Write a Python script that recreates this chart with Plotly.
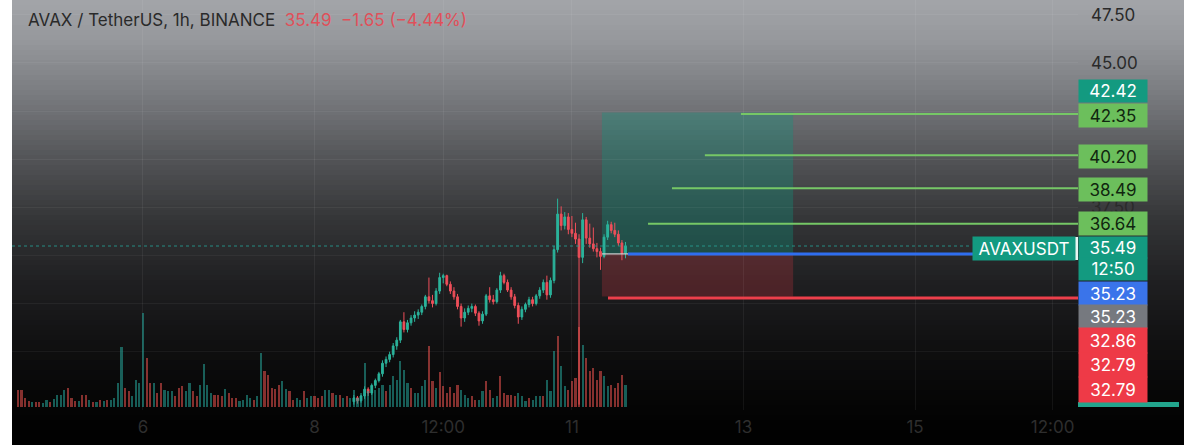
import plotly.graph_objects as go

# ---------------- data ----------------
candle_hours = list(range(59, 136))  # hours after day 6 00:00
open_ = [27.40, 27.60, 27.45, 27.70, 28.05, 27.85, 28.25, 28.50, 28.85, 29.40,
         29.60, 29.85, 30.30, 30.60, 31.55, 31.15, 31.50, 31.75, 31.90, 32.05,
         32.35, 32.85, 32.65, 32.50, 33.15, 33.85, 33.95, 33.50, 33.15, 32.85,
         32.35, 31.75, 32.05, 32.25, 32.35, 32.00, 31.60, 31.95, 32.90, 32.70,
         32.60, 33.20, 33.95, 33.60, 33.20, 32.85, 32.40, 31.80, 32.20, 32.45,
         32.70, 32.50, 32.90, 33.20, 33.60, 32.95, 33.70, 35.30, 37.15, 36.55,
         37.00, 36.35, 36.15, 35.85, 34.90, 36.85, 35.90, 35.60, 35.35, 35.20,
         34.95, 35.95, 36.60, 36.30, 36.10, 35.65, 35.10]
high = [27.75, 27.70, 27.85, 28.20, 28.15, 28.35, 28.60, 28.95, 29.55, 29.75,
        30.00, 30.45, 30.75, 31.65, 32.05, 31.65, 31.90, 32.10, 32.20, 32.45,
        32.95, 33.85, 32.95, 33.30, 34.10, 34.05, 34.00, 33.65, 33.35, 33.00,
        32.50, 32.25, 32.40, 32.50, 32.45, 32.10, 32.10, 33.00, 33.35, 32.95,
        33.30, 34.15, 34.05, 33.75, 33.35, 33.00, 32.55, 32.35, 32.55, 32.85,
        32.85, 33.00, 33.35, 33.75, 33.95, 33.85, 35.50, 37.95, 37.55, 37.25,
        37.20, 37.05, 36.70, 36.10, 37.20, 37.00, 36.65, 36.45, 35.65, 35.40,
        36.10, 36.80, 36.75, 36.70, 36.30, 35.80, 35.70]
low = [27.25, 27.30, 27.35, 27.55, 27.70, 27.75, 28.10, 28.40, 28.70, 29.20,
       29.45, 29.70, 30.10, 30.45, 31.00, 31.00, 31.35, 31.55, 31.70, 31.90,
       32.20, 32.50, 32.30, 32.40, 33.00, 33.55, 33.40, 33.00, 32.70, 32.20,
       31.30, 31.55, 31.90, 32.05, 31.85, 31.35, 31.45, 31.85, 32.55, 32.45,
       32.50, 33.05, 33.50, 33.10, 32.70, 32.25, 31.45, 31.65, 32.05, 32.30,
       32.35, 32.40, 32.75, 33.05, 32.70, 32.80, 33.55, 35.15, 36.30, 36.35,
       36.10, 35.95, 35.60, 27.25, 34.60, 35.60, 35.40, 35.20, 34.90, 34.25,
       34.85, 35.80, 36.15, 35.95, 35.50, 34.75, 34.85]
close = [27.60, 27.45, 27.70, 28.05, 27.85, 28.25, 28.50, 28.85, 29.40, 29.60,
         29.85, 30.30, 30.60, 31.55, 31.15, 31.50, 31.75, 31.90, 32.05, 32.35,
         32.85, 32.65, 32.50, 33.15, 33.85, 33.95, 33.50, 33.15, 32.85, 32.35,
         31.75, 32.05, 32.25, 32.35, 32.00, 31.60, 31.95, 32.90, 32.70, 32.60,
         33.20, 33.95, 33.60, 33.20, 32.85, 32.40, 31.80, 32.20, 32.45, 32.70,
         32.50, 32.90, 33.20, 33.60, 32.95, 33.70, 35.30, 37.15, 36.55, 37.00,
         36.35, 36.15, 35.85, 34.90, 36.85, 35.90, 35.60, 35.35, 35.20, 34.95,
         35.95, 36.60, 36.30, 36.10, 35.65, 35.10, 35.49]

volume_hours = list(range(-35, 136))
volume = [17, 17, 9, 6, 5, 5, 5, 4, 7, 5, 8, 12, 12, 17, 19, 9, 6, 6, 12, 12,
          7, 5, 5, 7, 6, 7, 7, 9, 24, 60, 19, 16, 11, 27, 24,
          94, 49, 24, 24, 14, 24, 17, 16, 16, 11, 19, 21, 16, 24,
          16, 11, 22, 43, 22, 14, 12, 12, 11, 18, 14, 9, 9, 6, 7, 12, 9, 7, 11, 54,
          36, 32, 19, 18, 22, 26, 18, 16, 7, 9, 7, 16, 9, 11, 11, 9, 11, 17, 17, 14,
          12, 12, 9, 11, 9, 17, 9,
          12, 44, 16, 14, 17, 19, 22, 16, 22, 31, 27, 46, 37, 24, 19, 14, 14, 21, 27, 61,
          26, 19, 35, 21, 14, 20, 14, 22, 17, 12, 9, 11, 7, 7,
          16, 26, 17, 9, 11, 31, 14, 12, 12, 11, 14, 11, 6, 9, 7, 11, 11, 11, 27, 16,
          56, 71, 41, 21, 17, 26, 29, 80, 62, 49, 36, 39, 27, 36, 31, 21, 22, 19, 24, 32, 22]
volume_dir = ("ddddudduud" "uuuudddudd" "udududuuuu" "dduuu"
              "uddudduuuddduu"
              "dduuuuddduddduuuuduuddddduudduuduuddduudud"
              "uduuuuuuuuuuduuuuuuduuuuddudddddduuudd"
              "uudduuddddduuuduuuduuuduudddduddddduuddddu")

tick_hours = [0, 48, 84, 120, 168, 216, 254.5]
tick_text = ["6", "8", "12:00", "11", "13", "15", "12:00"]
price_ticks = [30.0, 32.5, 35.0, 37.5, 40.0, 42.5, 45.0, 47.5]
price_tick_text = ["", "", "", "37.50", "", "", "45.00", "47.50"]  # others sit under the price tags

last_price = 35.49
entry_price = 35.08
target_price = 42.42
stop_price = 32.86
position_hours = [128.4, 181.9]
tp_levels = [42.35, 40.20, 38.49, 36.64]
tp_start_hours = [167.3, 157.2, 148.0, 141.3]
sl_level = 32.79
sl_start_hour = 130.1
entry_line_hours = [135.7, 232.8]

axis_labels = ["42.42", "42.35", "40.20", "38.49", "36.64", "35.49", "12:50",
               "35.23", "35.23", "32.86", "32.79", "32.79"]

# ---------------- layout geometry ----------------
W, H = 1200, 445
ML, MR, MT, MB = 12, 122, 0, 35
PW, PH = W - ML - MR, H - MT - MB
XR = [-36.65, 261.6]
YR = [26.97, 48.27]


def py2paper(py):
    return 1 - py / PH


def px2paper(px):
    return (px - ML) / PW


UP = "#2bb39b"
DOWN = "#ef4f5a"

fig = go.Figure()

# volume
vcol = ["rgba(38,166,154,0.55)" if d == "u" else "rgba(239,83,80,0.55)" for d in volume_dir]
fig.add_trace(go.Bar(x=volume_hours, y=volume, marker=dict(color=vcol, line=dict(width=0)),
                     width=0.6, yaxis="y2", hoverinfo="skip", showlegend=False))

# candles
fig.add_trace(go.Candlestick(
    x=candle_hours, open=open_, high=high, low=low, close=close,
    increasing=dict(line=dict(color=UP, width=1), fillcolor=UP),
    decreasing=dict(line=dict(color=DOWN, width=1), fillcolor=DOWN),
    whiskerwidth=0, showlegend=False, hoverinfo="skip"))

shapes = []
# gradient background bands
stops = [(0, (163, 165, 169)), (40, (150, 152, 156)), (100, (118, 120, 124)),
         (160, (82, 83, 86)), (220, (52, 53, 55)), (280, (32, 32, 34)),
         (340, (17, 17, 18)), (400, (5, 5, 5)), (445, (0, 0, 0))]


def grad(py):
    for (a, ca), (b, cb) in zip(stops[:-1], stops[1:]):
        if a <= py <= b:
            t = (py - a) / (b - a)
            return tuple(round(ca[i] + (cb[i] - ca[i]) * t) for i in range(3))
    return stops[-1][1]


step = 5
for py in range(0, H, step):
    c = grad(py + step / 2)
    shapes.append(dict(type="rect", xref="paper", yref="paper", layer="below",
                       x0=px2paper(12), x1=px2paper(1184),
                       y0=py2paper(py + step + 0.5), y1=py2paper(py),
                       fillcolor="rgb(%d,%d,%d)" % c, line=dict(width=0)))

# position tool boxes
shapes.append(dict(type="rect", xref="x", yref="y", layer="below",
                   x0=position_hours[0], x1=position_hours[1], y0=entry_price, y1=target_price,
                   fillcolor="rgba(8,153,129,0.32)", line=dict(width=0)))
shapes.append(dict(type="rect", xref="x", yref="y", layer="below",
                   x0=position_hours[0], x1=position_hours[1], y0=stop_price, y1=entry_price,
                   fillcolor="rgba(242,54,69,0.22)", line=dict(width=0)))
shapes.append(dict(type="line", xref="x", yref="y",
                   x0=position_hours[0], x1=entry_line_hours[0], y0=entry_price, y1=entry_price,
                   line=dict(color="rgba(210,210,210,0.8)", width=1.5)))

# last price dotted line
shapes.append(dict(type="line", xref="x", yref="y",
                   x0=XR[0], x1=XR[0] + (972 - ML) / PW * (XR[1] - XR[0]),
                   y0=last_price, y1=last_price,
                   line=dict(color="rgba(38,166,154,0.8)", width=1, dash="dot")))
# entry line
shapes.append(dict(type="line", xref="x", yref="y",
                   x0=entry_line_hours[0], x1=entry_line_hours[1], y0=entry_price, y1=entry_price,
                   line=dict(color="#2f6ef0", width=3)))
# take-profit lines
for lv, st in zip(tp_levels, tp_start_hours):
    shapes.append(dict(type="line", xref="x", yref="y", x0=st, x1=XR[1], y0=lv, y1=lv,
                       line=dict(color="#76c766", width=2)))
# stop line
shapes.append(dict(type="line", xref="x", yref="y", x0=sl_start_hour, x1=XR[1], y0=sl_level, y1=sl_level,
                   line=dict(color="#ec3f4b", width=3)))
# white tick at symbol label
shapes.append(dict(type="rect", xref="paper", yref="paper",
                   x0=px2paper(1075), x1=px2paper(1078), y0=py2paper(260), y1=py2paper(237),
                   fillcolor="#e8f5f2", line=dict(width=0)))
# teal strip bottom right
shapes.append(dict(type="rect", xref="paper", yref="paper",
                   x0=px2paper(1078), x1=px2paper(1179), y0=py2paper(407), y1=py2paper(402),
                   fillcolor="#22a58d", line=dict(width=0)))

annotations = []
FONT = "Inter, Liberation Sans, sans-serif"
annotations.append(dict(
    xref="paper", yref="paper", x=px2paper(26), y=py2paper(20), xanchor="left", yanchor="middle",
    showarrow=False,
    text="AVAX / TetherUS, 1h, BINANCE&nbsp;&nbsp;<span style='color:#e0505a'>%.2f&nbsp;&nbsp;−1.65 (−4.44%%)</span>" % last_price,
    font=dict(family=FONT, size=17, color="#2a2a2a")))

annotations.append(dict(
    xref="paper", yref="paper", x=px2paper(972), y=py2paper(248.5), xanchor="left", yanchor="middle",
    showarrow=False, text="AVAXUSDT", width=102, height=23, borderpad=0,
    bgcolor="#139a80", font=dict(family=FONT, size=17, color="#ffffff")))

TEAL, GREEN, BLUE, GRAY, RED = "#139a80", "#6cbf5c", "#3a74ea", "#76797f", "#ee3a47"
label_style = [  # (centre px, height px, bg, fg)
    (91, 22, TEAL, "#ffffff"), (115.5, 23, GREEN, "#10260f"), (156.5, 23, GREEN, "#10260f"),
    (189.5, 23, GREEN, "#10260f"), (223.5, 23, GREEN, "#10260f"), (247.5, 21, TEAL, "#ffffff"),
    (269, 22, TEAL, "#ffffff"), (293.5, 23, BLUE, "#ffffff"), (316.5, 23, GRAY, "#ffffff"),
    (340.5, 25, RED, "#ffffff"), (365, 24, RED, "#ffffff"), (389.5, 25, RED, "#ffffff")]
for txt, (cy, hh, bg, fg) in zip(axis_labels, label_style):
    annotations.append(dict(
        xref="paper", yref="paper", x=1, y=py2paper(cy), xanchor="left", yanchor="middle",
        showarrow=False, text=txt, width=68, height=hh, borderpad=0, bgcolor=bg,
        font=dict(family=FONT, size=17, color=fg)))

fig.update_layout(
    width=W, height=H, margin=dict(l=ML, r=MR, t=MT, b=MB),
    paper_bgcolor="#ffffff", plot_bgcolor="rgba(0,0,0,0)",
    showlegend=False, bargap=0, hovermode=False,
    shapes=shapes, annotations=annotations,
    xaxis=dict(range=XR, tickvals=tick_hours, ticktext=tick_text, showgrid=True,
               gridcolor="rgba(255,255,255,0.06)", zeroline=False, showline=False, ticks="",
               ticklabelstandoff=5,
               tickfont=dict(family=FONT, size=17, color="#2e2e2e"), rangeslider=dict(visible=False),
               fixedrange=True),
    yaxis=dict(range=YR, side="right", tickvals=price_ticks,
               ticktext=price_tick_text, showgrid=True,
               gridcolor="rgba(255,255,255,0.05)", zeroline=False, showline=False, ticks="",
               ticklabelstandoff=12,
               tickfont=dict(family=FONT, size=17, color="#2a2a2a"), fixedrange=True),
    yaxis2=dict(range=[-3, 407], overlaying="y", visible=False, fixedrange=True),
)

fig.write_html("out.html", config={"displayModeBar": False},
               post_script="document.body.style.margin='0px';document.body.style.overflow='hidden';")
